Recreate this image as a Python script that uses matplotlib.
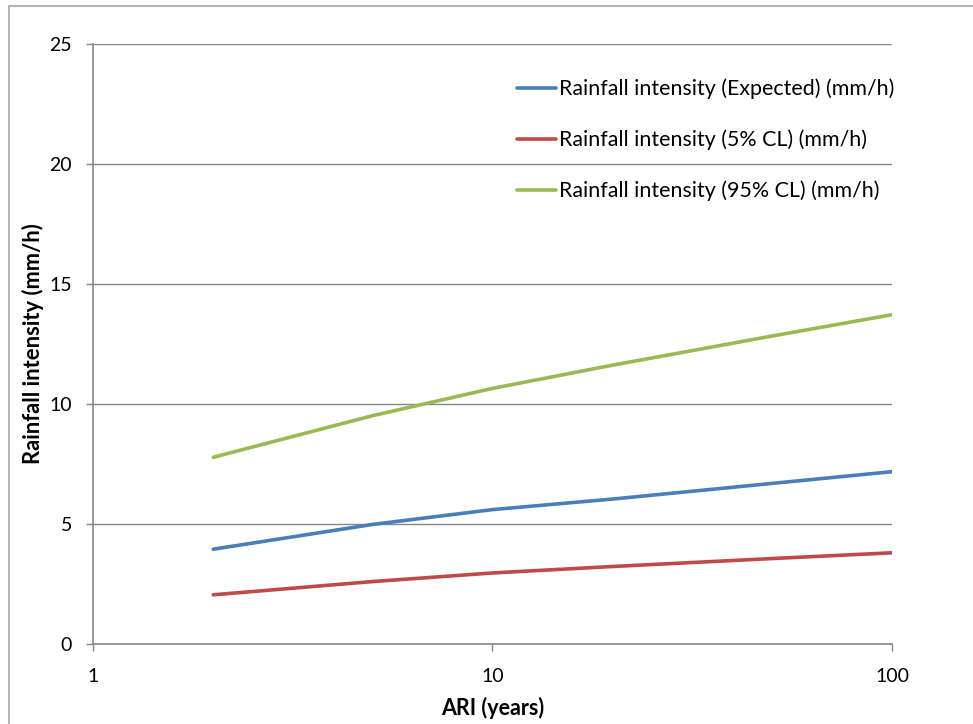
import matplotlib.pyplot as plt
import matplotlib.patches as mpatches
from matplotlib.ticker import FixedLocator, NullLocator

ari = [2, 5, 10, 20, 50, 100]
expected = [3.95, 4.98, 5.60, 6.04, 6.69, 7.18]
cl5 = [2.05, 2.60, 2.96, 3.23, 3.56, 3.80]
cl95 = [7.78, 9.51, 10.65, 11.62, 12.83, 13.72]

labels = [
    "Rainfall intensity (Expected) (mm/h)",
    "Rainfall intensity (5% CL) (mm/h)",
    "Rainfall intensity (95% CL) (mm/h)",
]
colors = ["#4A7EBB", "#BE4B48", "#98B954"]

plt.rcParams["font.family"] = ["Lato", "DejaVu Sans"]

fig = plt.figure(figsize=(9.73, 7.24), dpi=100)
fig.patch.set_facecolor("white")
ax = fig.add_axes([93 / 973, 1 - 644 / 724, (892 - 93) / 973, 600 / 724])

# outer chart border
fig.patches.append(mpatches.Rectangle(
    (9 / 973, -0.05), 1.1, 1 - 6 / 724 + 0.05,
    transform=fig.transFigure, fill=False, edgecolor="#a6a6a6", linewidth=1.2,
))

for ys, lab, c in zip([expected, cl5, cl95], labels, colors):
    ax.plot(ari, ys, color=c, linewidth=2.6, label=lab, solid_capstyle="round")

ax.set_xscale("log")
ax.set_xlim(1, 100)
ax.set_ylim(0, 25)
ax.xaxis.set_major_locator(FixedLocator([1, 10, 100]))
ax.xaxis.set_minor_locator(NullLocator())
ax.set_xticklabels(["1", "10", "100"])
ax.set_yticks([0, 5, 10, 15, 20, 25])

ax.grid(axis="y", color="#868686", linewidth=1.0)
ax.set_axisbelow(True)
for s in ["top", "right"]:
    ax.spines[s].set_visible(False)
for s in ["left", "bottom"]:
    ax.spines[s].set_color("#868686")
    ax.spines[s].set_linewidth(1.2)
ax.tick_params(axis="both", colors="#868686", labelcolor="black", labelsize=14,
               length=5, width=1.0, direction="out")
ax.tick_params(axis="x", pad=12)
ax.tick_params(axis="y", pad=10)

ax.set_xlabel("ARI (years)", fontsize=15.5, fontweight="bold", labelpad=9)
ax.set_ylabel("Rainfall intensity (mm/h)", fontsize=15.8, fontweight="bold", labelpad=4)

ax.legend(loc="upper left", bbox_to_anchor=(0.507, 0.974), frameon=False,
          fontsize=15.4, handlelength=1.82, handletextpad=0.14, labelspacing=1.42)

fig.savefig("out.png", dpi=100, facecolor=fig.get_facecolor())
plt.close()
